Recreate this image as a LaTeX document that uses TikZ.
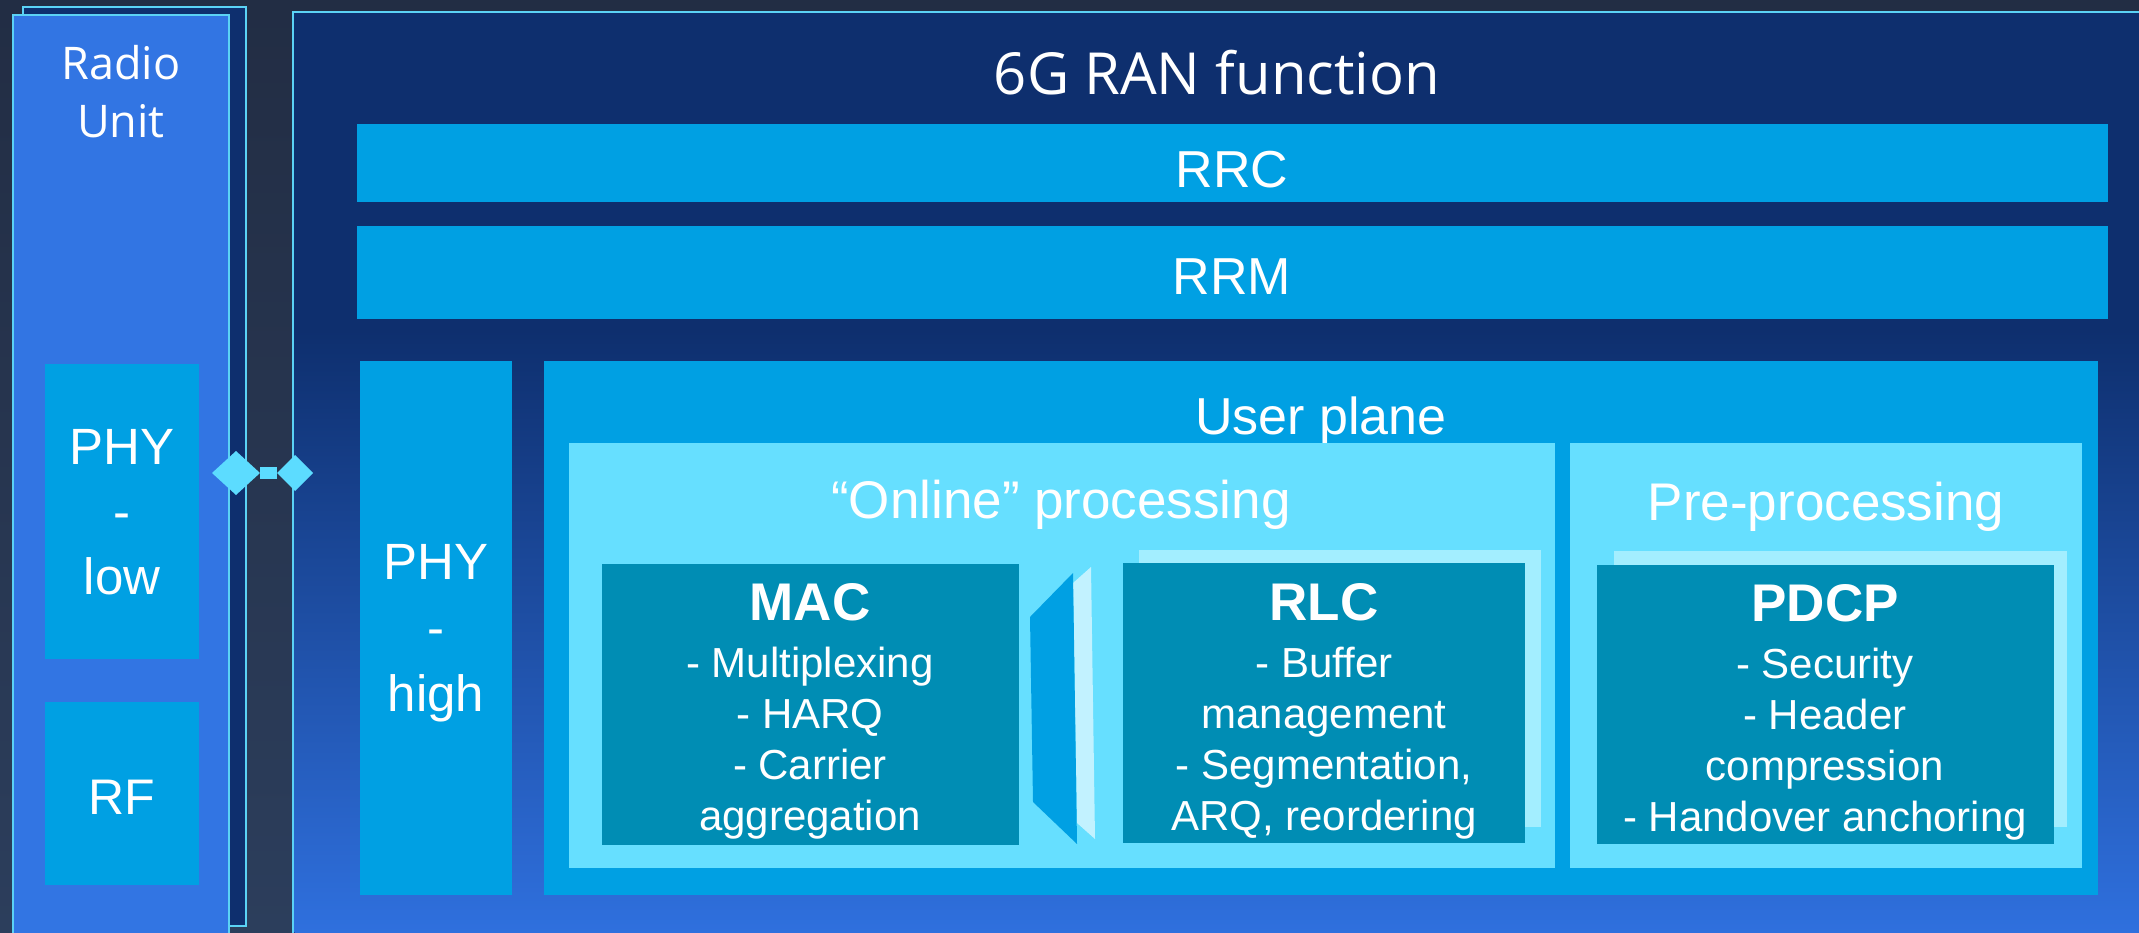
\documentclass[tikz,border=0pt]{standalone}
\usepackage{fontspec}
\setmainfont{Liberation Sans}
\newfontfamily\segoe{Open Sans}
\usetikzlibrary{shapes.geometric}
\definecolor{bgtop}{HTML}{222D44}
\definecolor{bgbot}{HTML}{2C3E5C}
\definecolor{navy}{HTML}{0E2F6E}
\definecolor{ranbot}{HTML}{2F70DE}
\definecolor{rublue}{HTML}{3275E3}
\definecolor{edgec}{HTML}{5BD2F5}
\definecolor{midc}{HTML}{00A0E3}
\definecolor{lightc}{HTML}{66DFFF}
\definecolor{tealc}{HTML}{008DB4}
\definecolor{palec}{HTML}{A3EEFF}
\definecolor{palerc}{HTML}{C2F2FF}
\definecolor{connc}{HTML}{5CDCFF}
\begin{document}
\begin{tikzpicture}[x=1pt,y=-1pt,
  blk/.style={inner sep=0pt, outer sep=0pt, anchor=north west},
  midbox/.style={blk, fill=midc},
  lightbox/.style={blk, fill=lightc},
  tealbox/.style={blk, fill=tealc},
  shadowbox/.style={blk, fill=palec},
  txt/.style={text=white, inner sep=0pt, align=center},
  big/.style={txt, font=\fontsize{52}{52}\selectfont},
  phy/.style={txt, font=\fontsize{51}{66}\selectfont},
  item/.style={txt, font=\fontsize{42}{51}\selectfont},
  diam/.style={diamond, fill=connc, inner sep=0pt, outer sep=0pt}
]
\useasboundingbox (0,0) rectangle (2139,933);
\shade[top color=bgtop, bottom color=bgbot] (0,0) rectangle (2139,933);

% Radio unit
\node[blk, fill=navy, draw=edgec, line width=2.5pt, minimum width=223, minimum height=919] (ruback) at (23,7) {};
\node[blk, fill=rublue, draw=edgec, line width=2.5pt, minimum width=216, minimum height=940] (ru) at (13,15) {};
\node[txt, font=\segoe\fontsize{45}{58}\selectfont] (rutxt) at (121,92) {Radio\\Unit};
\node[midbox, minimum width=154, minimum height=295] (phyl) at (45,364) {};
\node[phy, font=\fontsize{51}{65}\selectfont] (phyltxt) at (122,512) {PHY\\-\\low};
\node[midbox, minimum width=154, minimum height=183] (rf) at (45,702) {};
\node[big, font=\fontsize{50}{50}\selectfont, anchor=base] (rftxt) at (122,814) {RF};

% RAN function
\node[blk, fill=navy, draw=edgec, line width=2.5pt, minimum width=1870, minimum height=940] (ran) at (293,12) {};
\shade[top color=navy, bottom color=ranbot] (294.5,330) rectangle (2139,933);
\node[txt, font=\segoe\fontsize{58}{58}\selectfont, anchor=base] (rantxt) at (1217,95) {6G RAN function};

\node[midbox, minimum width=1751, minimum height=78] (rrc) at (357,124) {};
\node[big, anchor=base] (rrctxt) at (1232,188) {RRC};
\node[midbox, minimum width=1751, minimum height=93] (rrm) at (357,226) {};
\node[big, anchor=base] (rrmtxt) at (1232,295) {RRM};

\node[midbox, minimum width=152, minimum height=534] (phyh) at (360,361) {};
\node[phy] (phyhtxt) at (436,633) {PHY\\-\\high};

\node[midbox, minimum width=1554, minimum height=534] (up) at (544,361) {};
\node[big, anchor=base] (uptxt) at (1321,434) {User plane};

\node[lightbox, minimum width=986, minimum height=425] (online) at (569,443) {};
\node[big, font=\fontsize{53}{53}\selectfont, anchor=base] (onlinetxt) at (1061,518) {“Online” processing};
\node[lightbox, minimum width=512, minimum height=425] (pre) at (1570,443) {};
\node[big, font=\fontsize{53}{53}\selectfont, anchor=base] (pretxt) at (1826,520) {Pre-processing};

% MAC
\node[tealbox, minimum width=417, minimum height=281] (mac) at (602,564) {};
\node[item] (mactxt) at (810,711) {{\fontsize{53}{53}\selectfont\bfseries MAC}\\[6pt]- Multiplexing\\- HARQ\\- Carrier\\aggregation};

% separator shape between MAC and RLC
\fill[palerc] (1073,583) -- (1091,567) -- (1095,839) -- (1077,823) -- cycle;
\fill[midc] (1030,617) -- (1073,573) -- (1077,844) -- (1033,802) -- cycle;

% RLC
\node[shadowbox, minimum width=402, minimum height=277] (rlcsh) at (1139,550) {};
\node[tealbox, minimum width=402, minimum height=280] (rlc) at (1123,563) {};
\node[item] (rlctxt) at (1324,711) {{\fontsize{53}{53}\selectfont\bfseries RLC}\\[6pt]- Buffer\\management\\- Segmentation,\\ARQ, reordering};

% PDCP
\node[shadowbox, minimum width=453, minimum height=276] (pdcpsh) at (1614,551) {};
\node[tealbox, minimum width=457, minimum height=279] (pdcp) at (1597,565) {};
\node[item] (pdcptxt) at (1825,712) {{\fontsize{53}{53}\selectfont\bfseries PDCP}\\[6pt]- Security\\- Header\\compression\\- Handover anchoring};

% fronthaul connector
\node[diam, minimum width=48, minimum height=44] (dl) at (236,473) {};
\node[diam, minimum width=36, minimum height=36] (dr) at (295,473) {};
\draw[connc, line width=12pt] (dl) -- (dr);
\end{tikzpicture}
\end{document}
